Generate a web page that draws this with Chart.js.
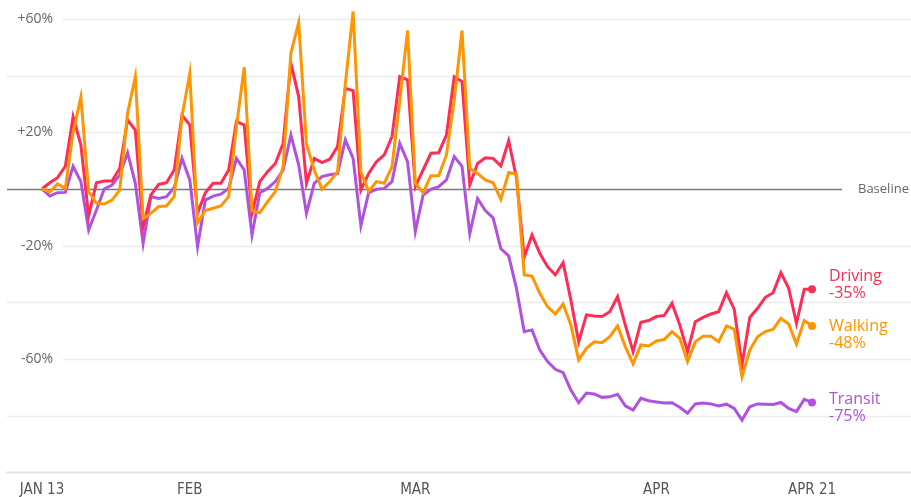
<!DOCTYPE html>
<html>
<head>
<meta charset="utf-8">
<script src="https://cdn.jsdelivr.net/npm/chart.js@4"></script>
<style>
  html, body { margin: 0; padding: 0; background: #fff; }
  #wrap { width: 911px; height: 497px; }
</style>
</head>
<body>
<div id="wrap"><canvas id="lineChart" width="911" height="497"></canvas></div>
<script>
// daily values, Jan 13 .. Apr 21 2020, % change from baseline
const driving = [
  0, 2.2, 4, 8, 25.5, 15.5, -9.5, 2.2, 2.8, 2.8,
  7.3, 24.4, 20.8, -13.3, -2.1, 1.6, 2.2, 6.7, 26, 22.6,
  -8.6, -1.3, 2, 2, 6.7, 23.8, 22.6, -8.6, 2.6, 6.1,
  9, 16, 44.4, 32.6, 2, 10.8, 9.3, 10.5, 15, 35.5,
  34.7, -0.4, 5.5, 9.6, 12, 18.5, 39.6, 38.5, 0.8, 6.7,
  12.6, 12.8, 19, 39.6, 37.9, 1.4, 9, 11, 10.8, 8.1,
  17, 4, -24, -16.2, -22.7, -27.4, -30.3, -26, -39.2, -53.9,
  -44.4, -44.8, -45, -43.3, -38, -48, -57.4, -47, -46.4, -45,
  -44.6, -40.3, -48, -57.4, -46.8, -45.3, -44.1, -43.3, -36.6, -42.4,
  -62.1, -45.3, -42.1, -38.2, -36.6, -29.5, -35, -47.4, -35.4, -35.4
];
const walking = [
  0, -1, 1.8, 0.2, 20, 32.4, -1, -5, -5.3, -3.9,
  -0.3, 26.7, 39.6, -10.4, -8.6, -6.2, -6, -2.7, 25.5, 40.8,
  -12, -7.6, -6.8, -6, -2.7, 22, 43, -7.6, -8.4, -4.5,
  -0.9, 7.9, 47.9, 58.7, 16, 6.7, -0.1, 2.6, 6.1, 37,
  62.6, 6.1, -0.9, 2.6, 2, 7.9, 31, 55.9, 2, -1.3,
  4.7, 4.7, 12, 31.4, 55.9, 7.3, 5.5, 3.2, 2.2, -3.6,
  5.8, 5.3, -30.3, -30.7, -36.8, -41.5, -44.1, -40.6, -48, -60.3,
  -56.2, -53.9, -54.2, -52.1, -48.3, -55.6, -61.7, -55, -55.4, -53.6,
  -53.1, -50.3, -52.7, -60.9, -53.9, -51.9, -51.9, -53.9, -48.3, -49.5,
  -66.3, -56.8, -52.1, -50.3, -49.5, -45.6, -47.6, -54.7, -46.4, -48.3
];
const transit = [
  0, -2.5, -1.3, -1.2, 8, 2.6, -14.5, -7.4, 0, 1.4,
  5, 12.8, 2, -19.2, -2.7, -3.3, -2.7, 0.5, 10.8, 3.2,
  -20.4, -3.9, -2.5, -1.8, 0.2, 10.8, 6.7, -16.2, -1.3, 0.2,
  2.6, 6.7, 19, 8.5, -8.6, 2, 4.4, 5, 5.5, 17.3,
  10.8, -13, -1.3, -0.1, 0.2, 2.6, 16.1, 9.6, -15, -2.1,
  -0.1, 0.8, 3.2, 11.4, 8, -15.8, -3.4, -7.6, -10.2, -21.1,
  -23.6, -35, -50.3, -49.7, -56.8, -60.9, -63.6, -64.8, -70.9, -75.4,
  -72, -72.3, -73.5, -73.3, -72.4, -76.5, -78, -73.8, -74.7, -75.1,
  -75.5, -75.4, -77, -79.1, -75.8, -75.5, -75.8, -76.5, -75.9, -77.4,
  -81.5, -76.8, -75.8, -75.9, -76, -75.3, -77.4, -78.5, -74.2, -75.3
];

const startDate = new Date(Date.UTC(2020, 0, 13));
const days = driving.map((v, i) => {
  const d = new Date(startDate.getTime() + i * 86400000);
  return d.toISOString().slice(0, 10);
});

const xTickDates = ["2020-01-13", "2020-02-01", "2020-03-01", "2020-04-01", "2020-04-21"];
const xTickLabels = ["JAN 13", "FEB", "MAR", "APR", "APR 21"];
const yGridValues = [60, 40, 20, -20, -40, -60, -80];
const yTickLabels = { "60": "+60%", "20": "+20%", "-20": "-20%", "-60": "-60%" };

const seriesNames = ["Walking", "Driving", "Transit"];
const seriesData = [walking, driving, transit];
const seriesColors = ["#ff9500", "#ff2d55", "#af52de"];
// label position relative to the last point (name, value)
const labelOffsets = [[1, 18], [-13, 4], [-3, 14]];

const gridPlugin = {
  id: "grid",
  beforeDatasetsDraw(chart) {
    const ctx = chart.ctx;
    const y = chart.scales.y;
    const x = chart.scales.x;
    ctx.save();
    ctx.font = "14px 'Open Sans'";
    ctx.textAlign = "right";
    ctx.textBaseline = "middle";
    yGridValues.forEach(v => {
      const py = Math.round(y.getPixelForValue(v)) + 0.5;
      const lab = yTickLabels[String(v)];
      ctx.strokeStyle = "#ececec";
      ctx.lineWidth = 1.5;
      ctx.beginPath();
      ctx.moveTo(lab ? 63 : 7, py);
      ctx.lineTo(911, py);
      ctx.stroke();
      if (lab) {
        ctx.fillStyle = "#666";
        ctx.fillText(lab, 53, py);
      }
    });
    // bottom axis
    const pb = y.getPixelForValue(-100);
    ctx.strokeStyle = "#e4e4e4";
    ctx.lineWidth = 2;
    ctx.beginPath();
    ctx.moveTo(6, pb);
    ctx.lineTo(911, pb);
    ctx.stroke();
    // baseline
    const p0 = Math.round(y.getPixelForValue(0)) + 0.5;
    ctx.strokeStyle = "#7a7a7a";
    ctx.lineWidth = 1.5;
    ctx.beginPath();
    ctx.moveTo(7, p0);
    ctx.lineTo(842, p0);
    ctx.stroke();
    ctx.fillStyle = "#666";
    ctx.textAlign = "left";
    ctx.font = "13px 'Open Sans'";
    ctx.fillText("Baseline", 858, p0);
    // x ticks
    ctx.font = "15px 'Liberation Sans Narrow', 'DejaVu Sans Condensed', 'Open Sans'";
    ctx.textAlign = "center";
    ctx.textBaseline = "middle";
    ctx.fillStyle = "#555";
    xTickDates.forEach((d, i) => {
      const idx = days.indexOf(d);
      ctx.fillText(xTickLabels[i], x.getPixelForValue(idx), 490);
    });
    ctx.restore();
  },
  afterDatasetsDraw(chart) {
    const ctx = chart.ctx;
    ctx.save();
    ctx.font = "16px 'Open Sans'";
    ctx.textAlign = "left";
    ctx.textBaseline = "middle";
    chart.data.datasets.forEach((ds, i) => {
      const meta = chart.getDatasetMeta(i);
      const last = meta.data[meta.data.length - 1];
      const val = ds.data[ds.data.length - 1];
      ctx.fillStyle = seriesColors[i];
      ctx.fillText(seriesNames[i], 829, last.y + labelOffsets[i][0]);
      ctx.fillText(Math.round(val) + "%", 829, last.y + labelOffsets[i][1]);
    });
    ctx.restore();
  }
};

const ctxL = document.getElementById("lineChart").getContext("2d");
const myLineChart = new Chart(ctxL, {
  type: "line",
  data: {
    labels: days,
    datasets: seriesNames.map((name, i) => ({
      label: name,
      data: seriesData[i],
      borderColor: seriesColors[i],
      backgroundColor: seriesColors[i],
      borderWidth: 3,
      tension: 0,
      clip: false,
      pointRadius: c => (c.dataIndex === seriesData[i].length - 1 ? 4 : 0),
      pointBorderWidth: 0,
      pointHoverRadius: 0,
    })),
  },
  options: {
    responsive: false,
    animation: false,
    layout: {
      padding: { left: 42, right: 99, top: 4.7, bottom: 24.5 }
    },
    plugins: {
      legend: { display: false },
      tooltip: { enabled: false },
    },
    scales: {
      x: { display: false },
      y: { display: false, min: -100, max: 65 },
    },
  },
  plugins: [gridPlugin],
});
</script>
</body>
</html>
